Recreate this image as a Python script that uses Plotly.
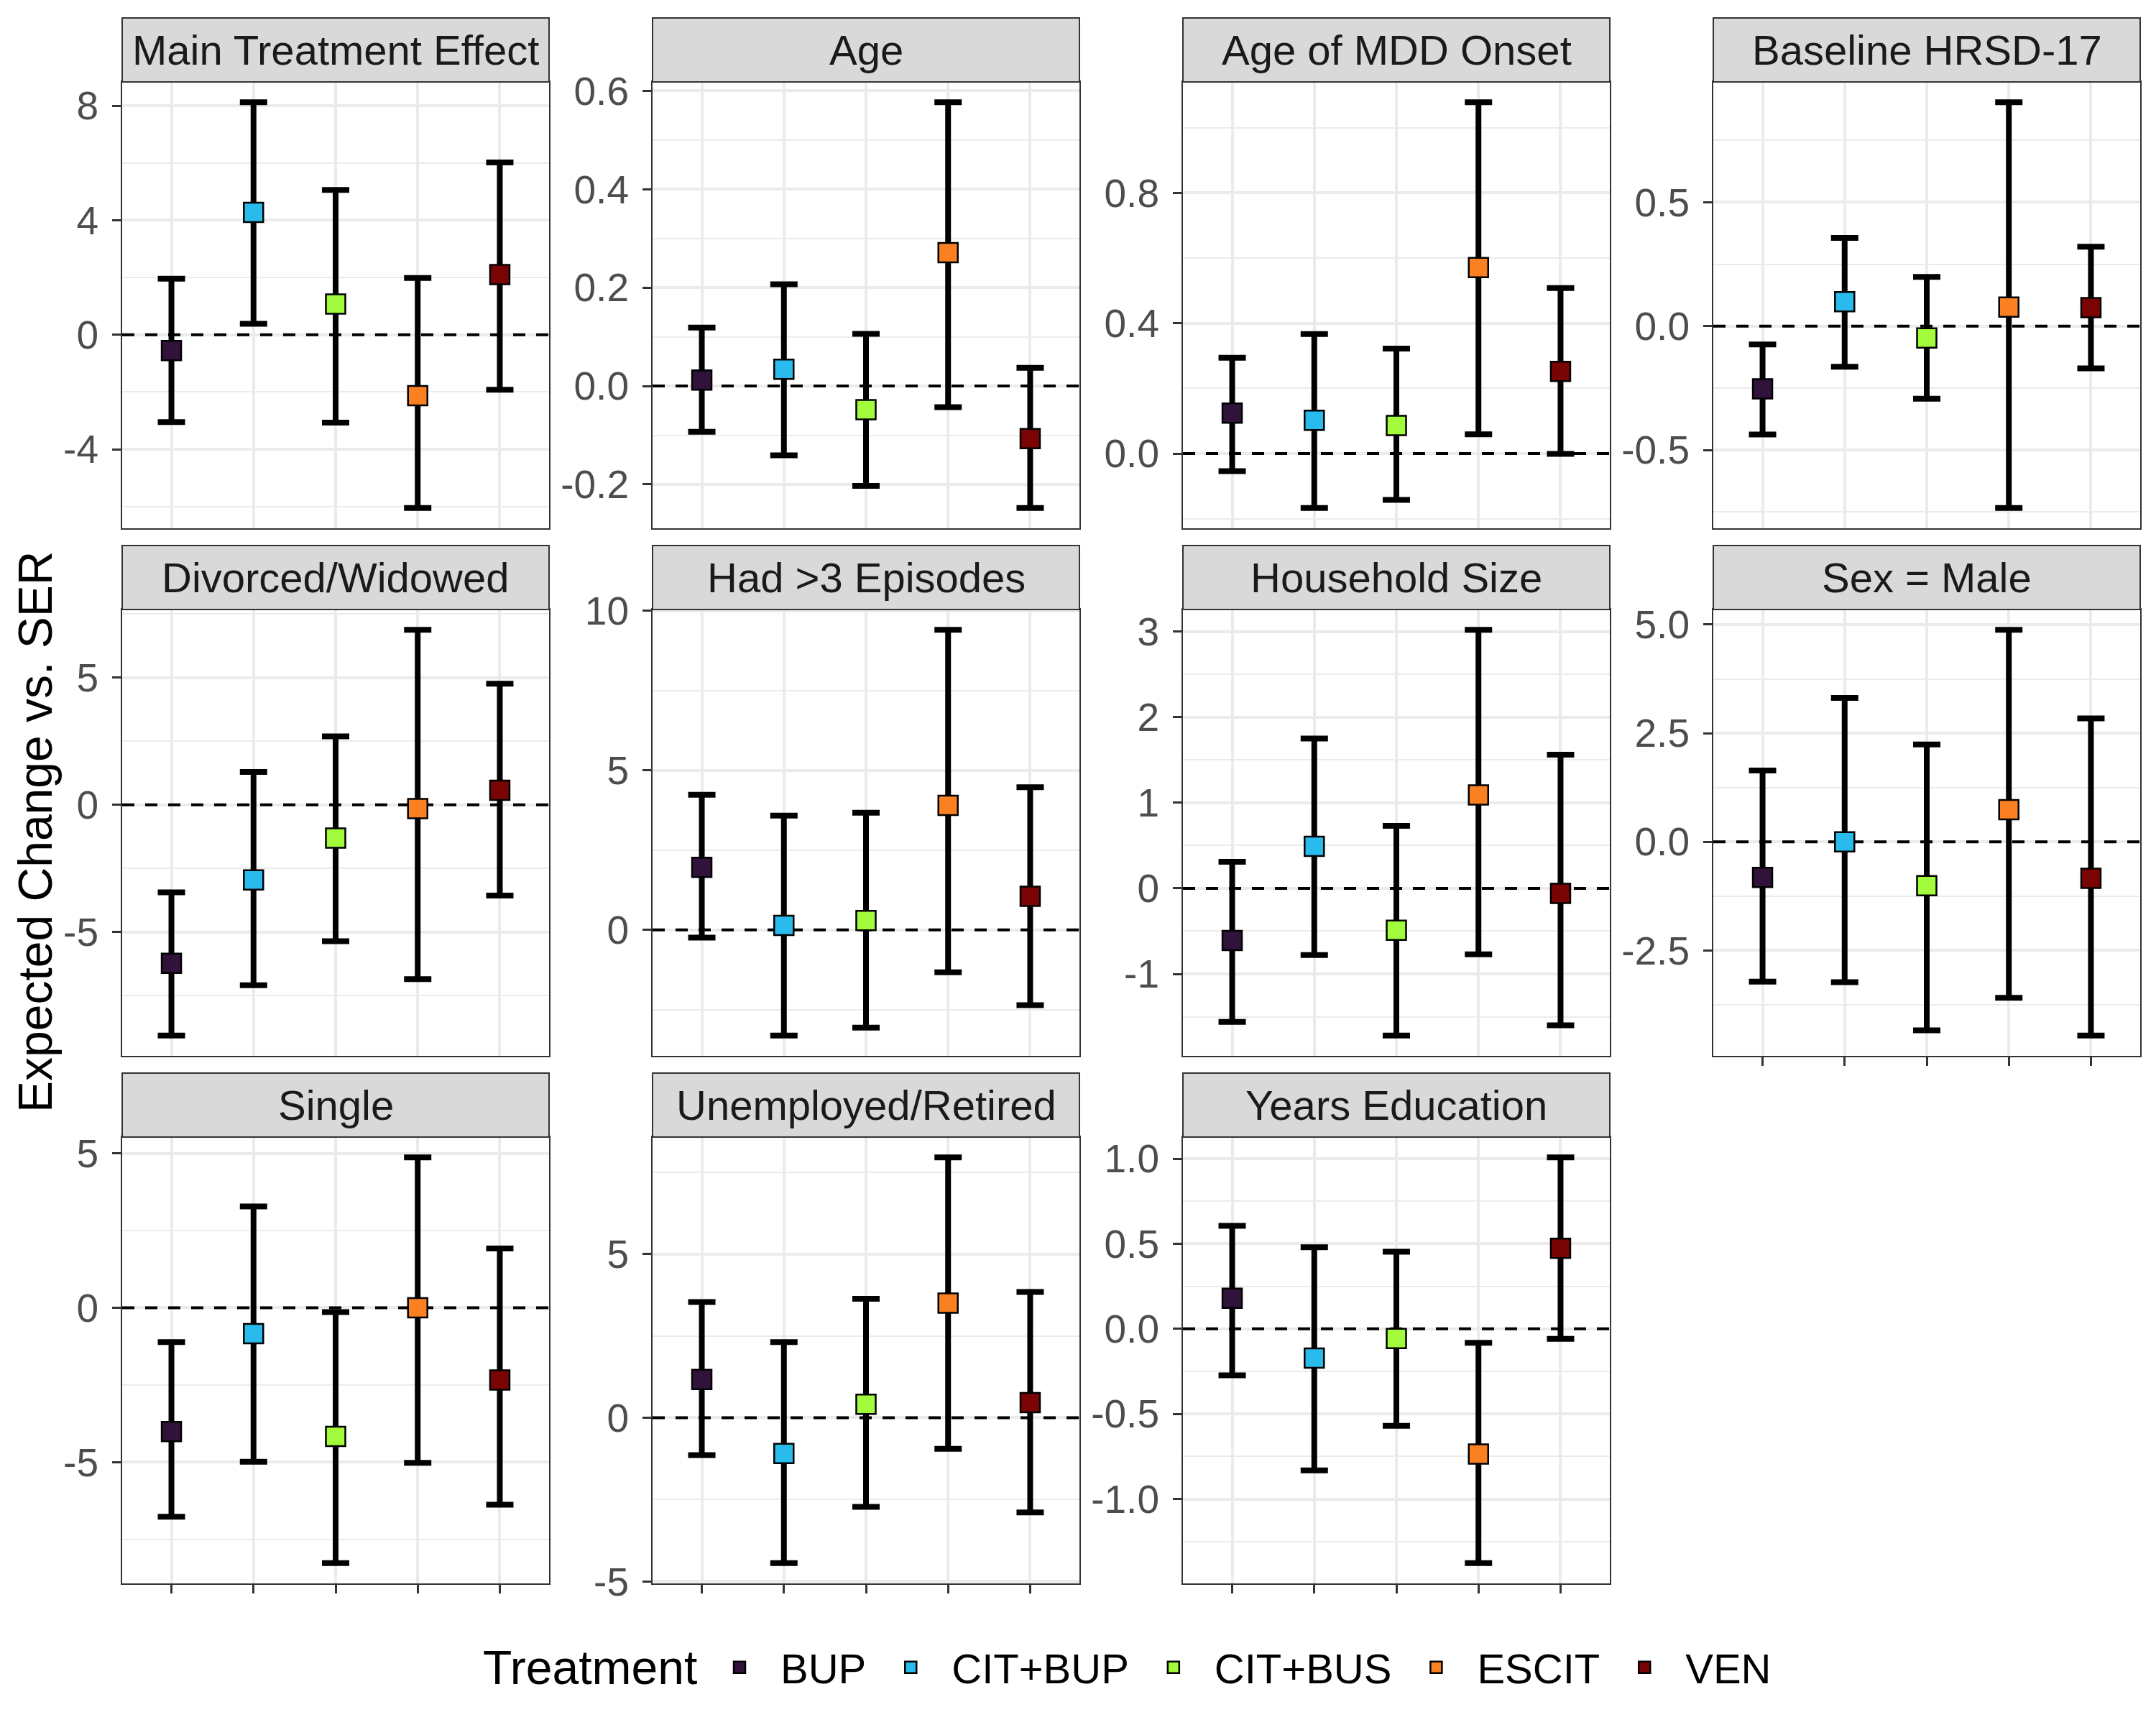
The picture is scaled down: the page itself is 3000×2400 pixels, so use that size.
import math
import plotly.graph_objects as go

W, H = 3000, 2400

treatments = ["BUP", "CIT+BUP", "CIT+BUS", "ESCIT", "VEN"]
colors = ["#30123B", "#28BBEC", "#A2FC3C", "#FB8022", "#7A0403"]

titles = ["Main Treatment Effect", "Age", "Age of MDD Onset", "Baseline HRSD-17",
          "Divorced/Widowed", "Had >3 Episodes", "Household Size", "Sex = Male",
          "Single", "Unemployed/Retired", "Years Education"]

# estimates, lower and upper interval limits (order: BUP, CIT+BUP, CIT+BUS, ESCIT, VEN)
est_main = [-0.55, 4.27, 1.07, -2.13, 2.10]
lo_main = [-3.05, 0.38, -3.07, -6.05, -1.92]
hi_main = [1.96, 8.12, 5.06, 1.98, 6.02]

est_age = [0.012, 0.034, -0.048, 0.271, -0.107]
lo_age = [-0.093, -0.141, -0.203, -0.043, -0.248]
hi_age = [0.119, 0.207, 0.106, 0.577, 0.037]

est_onset = [0.124, 0.102, 0.086, 0.571, 0.252]
lo_onset = [-0.054, -0.167, -0.142, 0.059, -0.001]
hi_onset = [0.294, 0.367, 0.322, 1.078, 0.508]

est_hrsd = [-0.253, 0.099, -0.048, 0.077, 0.075]
lo_hrsd = [-0.437, -0.164, -0.293, -0.734, -0.170]
hi_hrsd = [-0.074, 0.356, 0.199, 0.904, 0.321]

est_divorced = [-6.23, -2.95, -1.31, -0.15, 0.57]
lo_divorced = [-9.07, -7.09, -5.36, -6.85, -3.57]
hi_divorced = [-3.44, 1.29, 2.69, 6.88, 4.76]

est_episodes = [1.96, 0.14, 0.29, 3.90, 1.05]
lo_episodes = [-0.24, -3.31, -3.06, -1.33, -2.36]
hi_episodes = [4.23, 3.58, 3.67, 9.40, 4.47]

est_household = [-0.61, 0.49, -0.49, 1.09, -0.06]
lo_household = [-1.56, -0.78, -1.72, -0.77, -1.60]
hi_household = [0.31, 1.75, 0.73, 3.02, 1.56]

est_male = [-0.82, 0.00, -1.01, 0.74, -0.84]
lo_male = [-3.22, -3.23, -4.34, -3.59, -4.46]
hi_male = [1.64, 3.31, 2.24, 4.88, 2.84]

est_single = [-4.01, -0.84, -4.17, 0.00, -2.34]
lo_single = [-6.77, -4.99, -8.27, -5.02, -6.38]
hi_single = [-1.11, 3.28, -0.14, 4.87, 1.92]

est_unemployed = [1.17, -1.09, 0.41, 3.50, 0.46]
lo_unemployed = [-1.14, -4.44, -2.72, -0.95, -2.89]
hi_unemployed = [3.53, 2.31, 3.63, 7.95, 3.84]

est_education = [0.180, -0.172, -0.057, -0.736, 0.473]
lo_education = [-0.273, -0.832, -0.570, -1.377, -0.059]
hi_education = [0.605, 0.480, 0.453, -0.082, 1.008]

est = [est_main, est_age, est_onset, est_hrsd, est_divorced, est_episodes,
       est_household, est_male, est_single, est_unemployed, est_education]
lo = [lo_main, lo_age, lo_onset, lo_hrsd, lo_divorced, lo_episodes,
      lo_household, lo_male, lo_single, lo_unemployed, lo_education]
hi = [hi_main, hi_age, hi_onset, hi_hrsd, hi_divorced, hi_episodes,
      hi_household, hi_male, hi_single, hi_unemployed, hi_education]

ystep = [4, 0.2, 0.4, 0.5, 5, 5, 1, 2.5, 5, 5, 0.5]
ydec = [0, 1, 1, 1, 0, 0, 0, 1, 0, 0, 1]
bottom_panels = {7, 8, 9, 10}

# layout geometry (pixels, page coordinates; the page body adds an 8px offset)
OFF = 8
col_left = [170, 908, 1646, 2384]
panel_w = 594
row_top = [114, 848, 1582]
panel_h = 621
strip_h = 89


def fx(px):
    return (px - OFF) / W


def fy(py):
    return 1 - (py - OFF) / H


FONT = "Liberation Sans, Arial, sans-serif"
GRID = "#EBEBEB"
DARK = "#333333"

# discrete x positions (as ggplot does) and expanded x range
xpos = list(range(len(treatments)))
xrange_ = [xpos[0] - 0.6, xpos[-1] + 0.6]

fig = go.Figure()
axes = {}
shapes = []
annotations = []

for i, title in enumerate(titles):
    r, c = divmod(i, 4)
    sfx = "" if i == 0 else str(i + 1)
    xname, yname = "x" + sfx, "y" + sfx
    px0, px1 = col_left[c], col_left[c] + panel_w
    ptop, pbot = row_top[r], row_top[r] + panel_h
    xd = [fx(px0), fx(px1)]
    yd = [fy(pbot), fy(ptop)]

    e, l, h = est[i], lo[i], hi[i]
    dmin = min(min(l), 0.0)
    dmax = max(max(h), 0.0)
    pad = 0.05 * (dmax - dmin)
    rng = [dmin - pad, dmax + pad]
    step = ystep[i]
    k0 = math.ceil(rng[0] / step - 1e-9)
    k1 = math.floor(rng[1] / step + 1e-9)
    tickvals = [k * step for k in range(k0, k1 + 1)]
    ticktext = [f"{v:.{ydec[i]}f}" for v in tickvals]
    minor_vals = [(k + 0.5) * step for k in range(k0 - 1, k1 + 1)
                  if rng[0] <= (k + 0.5) * step <= rng[1]]

    # dashed reference line at zero, spanning the panel (drawn first, under the points)
    fig.add_trace(go.Scatter(
        x=xrange_, y=[0, 0], xaxis=xname, yaxis=yname, mode="lines",
        line=dict(color="black", width=4, dash="17px,15px"),
        showlegend=False, hoverinfo="skip",
    ))

    for j, t in enumerate(treatments):
        fig.add_trace(go.Scatter(
            x=[xpos[j]], y=[e[j]], xaxis=xname, yaxis=yname, mode="markers",
            marker=dict(symbol="square", size=27, color=colors[j],
                        line=dict(color="black", width=2.5)),
            error_y=dict(type="data", symmetric=False,
                         array=[h[j] - e[j]], arrayminus=[e[j] - l[j]],
                         color="black", thickness=8, width=19),
            name=t, legendgroup=t, showlegend=(i == 0),
        ))

    axes["xaxis" + sfx] = dict(
        domain=xd, anchor=yname, type="linear", range=xrange_,
        tickmode="array", tickvals=xpos, ticktext=treatments, showticklabels=False,
        ticks="outside" if i in bottom_panels else "", ticklen=12, tickwidth=3,
        tickcolor=DARK, showgrid=True, gridcolor=GRID, gridwidth=4,
        showline=True, mirror=True, linecolor=DARK, linewidth=2, zeroline=False,
        automargin=False,
    )
    axes["yaxis" + sfx] = dict(
        domain=yd, anchor=xname, range=rng, tickmode="array",
        tickvals=tickvals, ticktext=ticktext, ticks="outside", ticklen=12,
        tickwidth=3, tickcolor=DARK, tickfont=dict(size=55, color="#4D4D4D", family=FONT),
        ticklabelstandoff=8,
        showgrid=True, gridcolor=GRID, gridwidth=4,
        minor=dict(tickmode="array", tickvals=minor_vals, showgrid=True,
                   gridcolor=GRID, gridwidth=2, ticks=""),
        showline=True, mirror=True, linecolor=DARK, linewidth=2, zeroline=False,
        automargin=False,
    )

    # facet strip
    stop = ptop - strip_h
    shapes.append(dict(type="rect", xref="paper", yref="paper",
                       x0=fx(px0), x1=fx(px1), y0=fy(ptop), y1=fy(stop),
                       fillcolor="#D9D9D9", line=dict(color=DARK, width=2), layer="above"))
    annotations.append(dict(text=title, xref="paper", yref="paper",
                            x=fx((px0 + px1) / 2), y=fy(stop + strip_h / 2),
                            xanchor="center", yanchor="middle", showarrow=False,
                            font=dict(size=58, color="#1A1A1A", family=FONT)))

annotations.append(dict(text="Expected Change vs. SER", xref="paper", yref="paper",
                        x=fx(49), y=fy(1158), textangle=-90,
                        xanchor="center", yanchor="middle", showarrow=False,
                        font=dict(size=66, color="black", family=FONT)))

# legend title
annotations.append(dict(text="Treatment", xref="paper", yref="paper",
                        x=fx(670), y=fy(2320), xanchor="left", yanchor="middle",
                        showarrow=False, font=dict(size=66, color="black", family=FONT)))

fig.update_layout(
    width=W, height=H, autosize=False,
    margin=dict(l=0, r=0, t=0, b=0, autoexpand=False),
    paper_bgcolor="white", plot_bgcolor="white",
    font=dict(family=FONT, color="black"),
    shapes=shapes, annotations=annotations,
    showlegend=True,
    legend=dict(orientation="h", xref="container", yref="container",
                x=fx(972), xanchor="left",
                y=fy(2320), yanchor="middle",
                font=dict(size=58, color="black", family=FONT),
                itemwidth=104, bgcolor="rgba(0,0,0,0)"),
    **axes,
)

fig.write_html("out.html")
